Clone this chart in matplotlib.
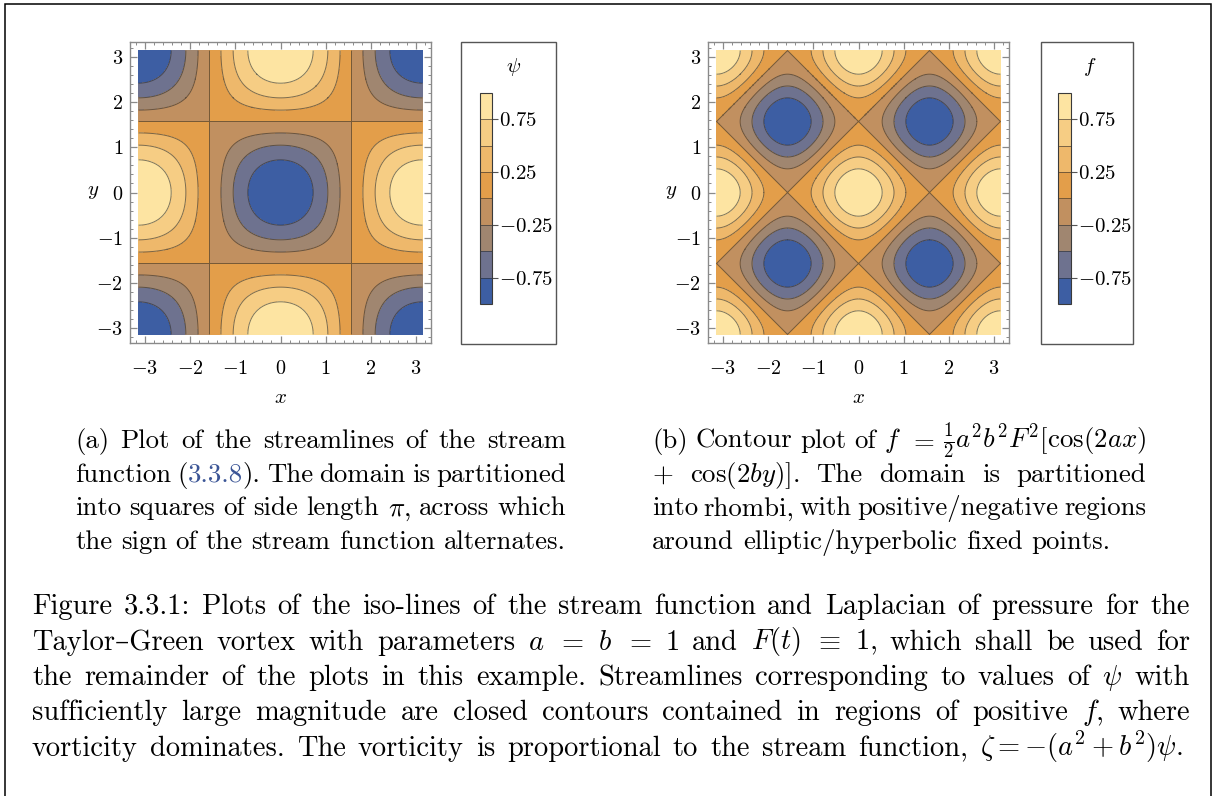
import numpy as np
import matplotlib
matplotlib.use('Agg')
import matplotlib.pyplot as plt
from matplotlib.patches import Rectangle
from matplotlib.ticker import MultipleLocator, FixedLocator

plt.rcParams['font.family'] = ['cmr10', 'DejaVu Serif']
plt.rcParams['mathtext.fontset'] = 'cm'
plt.rcParams['axes.unicode_minus'] = False
plt.rcParams['contour.negative_linestyle'] = 'solid'

W, H = 1215, 796

# contour levels, band colours (low -> high) and tick values
levels = [-1.0, -0.75, -0.5, -0.25, 0.0, 0.25, 0.5, 0.75, 1.0]
band_colors = ['#3d5ea3', '#6e728f', '#a08670', '#c19060',
               '#e39e4a', '#eeb86b', '#f6cd84', '#fde4a2']
cbar_ticks = [-0.75, -0.25, 0.25, 0.75]
cbar_labels = ['$-0.75$', '$-0.25$', '$0.25$', '$0.75$']
axis_ticks = [-3, -2, -1, 0, 1, 2, 3]
axis_labels = ['$-3$', '$-2$', '$-1$', '$0$', '$1$', '$2$', '$3$']

# Taylor-Green vortex, a = b = F = 1
g = np.linspace(-np.pi, np.pi, 601)
X, Y = np.meshgrid(g, g)
psi = -np.cos(X) * np.cos(Y)
f = 0.5 * (np.cos(2 * X) + np.cos(2 * Y))

fig = plt.figure(figsize=(W / 100, H / 100), dpi=100)
fig.patch.set_facecolor('white')


def fbox(x0, y0, x1, y1):
    # pixel box (top-left origin) -> figure fraction [l, b, w, h]
    return [x0 / W, 1 - y1 / H, (x1 - x0) / W, (y1 - y0) / H]


def panel(ax_px, cbar_px, box_px, Z, name, name_xy):
    ax = fig.add_axes(fbox(*ax_px))
    cs = ax.contourf(X, Y, Z, levels=levels, colors=band_colors)
    cl = ax.contour(X, Y, Z, levels=levels[1:-1], colors='#2b2b2b',
                    linewidths=0.7, alpha=0.6, linestyles='solid')
    lim = 3.33
    ax.set_xlim(-lim, lim)
    ax.set_ylim(-lim, lim)
    for s in ax.spines.values():
        s.set_color('#8a8a8a')
        s.set_linewidth(1.0)
    ax.xaxis.set_major_locator(FixedLocator(axis_ticks))
    ax.yaxis.set_major_locator(FixedLocator(axis_ticks))
    ax.xaxis.set_minor_locator(MultipleLocator(0.2))
    ax.yaxis.set_minor_locator(MultipleLocator(0.2))
    ax.set_xticklabels(axis_labels)
    ax.set_yticklabels(axis_labels)
    ax.tick_params(which='both', direction='in', top=True, right=True,
                   color='#8a8a8a', labelsize=14.5)
    ax.tick_params(axis='x', pad=12)
    ax.tick_params(axis='y', pad=5)
    ax.tick_params(which='major', length=5, width=0.9)
    ax.tick_params(which='minor', length=2.5, width=0.7)
    ax.set_xlabel('$x$', fontsize=15, labelpad=8)
    ax.set_ylabel('$y$', fontsize=15, rotation=0, labelpad=2, va='center')

    cax = fig.add_axes(fbox(*cbar_px))
    cb = fig.colorbar(cs, cax=cax)
    cb.add_lines(cl)
    cb.outline.set_edgecolor('#3a3a3a')
    cb.outline.set_linewidth(0.8)
    cb.set_ticks(cbar_ticks)
    cb.set_ticklabels(cbar_labels)
    cax.tick_params(direction='out', length=4, width=0.8, color='#555555',
                    labelsize=15, pad=1)
    fig.add_artist(Rectangle((box_px[0] / W, 1 - box_px[3] / H),
                             (box_px[2] - box_px[0]) / W,
                             (box_px[3] - box_px[1]) / H,
                             transform=fig.transFigure, fill=False,
                             ec='#555555', lw=1.0))
    fig.text(name_xy[0] / W, 1 - name_xy[1] / H, name, fontsize=15,
             ha='center', va='center')
    return ax


panel((130, 42, 431, 343), (480, 93, 492, 304), (461, 42, 556, 344),
      psi, r'$\psi$', (514, 67))
panel((708, 42, 1009, 343), (1058, 93, 1071, 304), (1041, 42, 1133, 344),
      f, r'$f$', (1090, 67))

# outer frame of the figure float
fig.add_artist(Rectangle((5 / W, -0.05), (1211 - 5) / W, 1.05 - 4 / H,
                         transform=fig.transFigure, fill=False,
                         ec='black', lw=1.1))

renderer = fig.canvas.get_renderer()
LINK = '#3b5596'


def tokens(line):
    if isinstance(line, list):
        return line
    out, cur, math = [], '', False
    for ch in line:
        if ch == '$':
            math = not math
        if ch == ' ' and not math:
            if cur:
                out.append(cur)
            cur = ''
        else:
            cur += ch
    if cur:
        out.append(cur)
    return out


def set_line(line, x0, x1, y, size, justify=True):
    words = tokens(line)
    placed = []
    for w in words:
        parts = w if isinstance(w, list) else [(w, 'black')]
        ts, width = [], 0.0
        for s, c in parts:
            t = fig.text(0, 1 - y / H, s, fontsize=size, color=c,
                         ha='left', va='baseline')
            wd = t.get_window_extent(renderer).width
            ts.append((t, wd))
            width += wd
        placed.append((ts, width))
    total = sum(p[1] for p in placed)
    if justify and len(placed) > 1:
        gap = (x1 - x0 - total) / (len(placed) - 1)
    else:
        gap = size * 100 / 72 * 0.333
    x = x0
    for ts, width in placed:
        xx = x
        for t, wd in ts:
            t.set_x(xx / W)
            xx += wd
        x += width + gap


def paragraph(lines, x0, x1, y0, step, size, last_full=False):
    for i, ln in enumerate(lines):
        just = i < len(lines) - 1 or last_full
        set_line(ln, x0, x1, y0 + i * step, size, just)


cap_a = [
    "(a) Plot of the streamlines of the stream",
    ["function", [("(", 'black'), ("3.3.8", LINK), (").", 'black')],
     "The", "domain", "is", "partitioned"],
    r"into squares of side length $\pi$, across which",
    "the sign of the stream function alternates.",
]
cap_b = [
    r"(b) Contour plot of $f$ $=$ $\frac{1}{2}a^2b^2F^2[\cos(2ax)$",
    r"$+$ $\cos(2by)]$. The domain is partitioned",
    "into rhombi, with positive/negative regions",
    "around elliptic/hyperbolic fixed points.",
]
cap_fig = [
    "Figure 3.3.1: Plots of the iso-lines of the stream function and "
    "Laplacian of pressure for the",
    r"Taylor–Green vortex with parameters $a$ $=$ $b$ $=$ $1$ and "
    r"$F(t)$ $\equiv$ $1$, which shall be used for",
    r"the remainder of the plots in this example. Streamlines corresponding "
    r"to values of $\psi$ with",
    r"sufficiently large magnitude are closed contours contained in regions "
    r"of positive $f$, where",
    r"vorticity dominates. The vorticity is proportional to the stream "
    r"function, $\zeta = -(a^2+b^2)\psi$.",
]

SUB = 19.3
paragraph(cap_a, 75, 566, 448, 33.7, SUB, last_full=True)
paragraph(cap_b, 652, 1146, 448, 33.7, SUB)
paragraph(cap_fig[:4], 32, 1190, 614, 35.5, 20.5, last_full=True)
set_line(cap_fig[4], 32, 1183, 614 + 4 * 35.5, 20.5, True)

fig.savefig('out.png', dpi=100)
